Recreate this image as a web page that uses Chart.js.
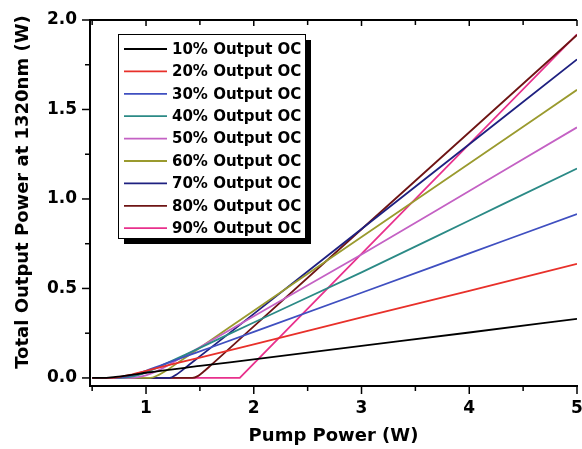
<!DOCTYPE html>
<html>
<head>
<meta charset="utf-8">
<script src="https://cdn.jsdelivr.net/npm/chart.js@4.4.0/dist/chart.umd.min.js"></script>
<style>
  body { margin: 0; background: #fff; }
  #chart { display: block; }
</style>
</head>
<body>
<canvas id="chart" width="582" height="449"></canvas>
<script>
// --- DATA ---
const seriesLabels = ['10% Output OC', '20% Output OC', '30% Output OC', '40% Output OC', '50% Output OC',
                      '60% Output OC', '70% Output OC', '80% Output OC', '90% Output OC'];
const seriesColors = ['#000000', '#e8302a', '#3f4fc0', '#2b8a86', '#c461c4',
                      '#9a9a2e', '#1e2080', '#6e1414', '#e8308c'];

const pump10 = [0.5, 0.6, 0.7, 0.8, 0.9, 1.0, 1.5, 2, 3, 4, 5];
const out10  = [0, 0, 0.005, 0.012, 0.02, 0.029, 0.067, 0.104, 0.179, 0.254, 0.33];
const pump20 = [0.5, 0.65, 0.75, 0.85, 1.0, 1.2, 1.5, 2, 3, 4, 5];
const out20  = [0, 0, 0.005, 0.017, 0.04, 0.07, 0.114, 0.188, 0.338, 0.487, 0.637];
const pump30 = [0.5, 0.7, 0.8, 0.9, 1.0, 1.1, 1.2, 1.4, 1.6, 2, 3, 4, 5];
const out30  = [0, 0, 0.006, 0.02, 0.04, 0.062, 0.084, 0.127, 0.17, 0.257, 0.476, 0.696, 0.916];
const pump40 = [0.5, 0.75, 0.85, 0.95, 1.05, 1.15, 1.3, 1.5, 2, 3, 4, 5];
const out40  = [0, 0, 0.006, 0.02, 0.043, 0.07, 0.112, 0.168, 0.31, 0.59, 0.88, 1.17];
const pump50 = [0.5, 0.85, 0.95, 1.05, 1.15, 1.25, 1.4, 1.6, 2, 3, 4, 5];
const out50  = [0, 0, 0.007, 0.025, 0.053, 0.087, 0.138, 0.206, 0.345, 0.69, 1.045, 1.40];
const pump60 = [0.5, 1.04, 1.1, 1.2, 1.3, 1.5, 2, 3, 4, 5];
const out60  = [0, 0, 0.012, 0.046, 0.087, 0.169, 0.376, 0.787, 1.198, 1.61];
const pump70 = [0.5, 1.22, 1.28, 1.4, 1.6, 2, 3, 4, 5];
const out70  = [0, 0, 0.018, 0.074, 0.168, 0.358, 0.832, 1.306, 1.78];
const pump80 = [0.5, 1.43, 1.48, 1.53, 1.6, 2, 3, 4, 5];
const out80  = [0, 0, 0.01, 0.033, 0.07, 0.288, 0.831, 1.373, 1.916];
const pump90 = [0.5, 1.87, 5];
const out90  = [0, 0, 1.92];

const xMajorTicks = [1, 2, 3, 4, 5];
const xMinorTicks = [0.5, 1.5, 2.5, 3.5, 4.5];
const yMajorTicks = [0, 0.5, 1.0, 1.5, 2.0];
const yMinorTicks = [0.25, 0.75, 1.25, 1.75];

const xTitle = 'Pump Power (W)';
const yTitle = 'Total Output Power at 1320nm (W)';

// --- BUILD DATASETS ---
const pumpSets = [pump10, pump20, pump30, pump40, pump50, pump60, pump70, pump80, pump90];
const outSets  = [out10, out20, out30, out40, out50, out60, out70, out80, out90];

const datasets = seriesLabels.map((label, i) => ({
    label: label,
    data: pumpSets[i].map((x, j) => ({ x: x, y: outSets[i][j] })),
    borderColor: seriesColors[i],
    backgroundColor: seriesColors[i],
    borderWidth: 1.8,
    pointRadius: 0,
    fill: false,
    cubicInterpolationMode: i === 8 ? 'default' : 'monotone',
    tension: 0
}));

const FONT = '"DejaVu Sans", Arial, sans-serif';

// --- FRAME, MINOR TICKS, LEGEND, TITLES ---
const framePlugin = {
    id: 'frame',
    afterDraw(chart) {
        const ctx = chart.ctx;
        const xs = chart.scales.x;
        const ys = chart.scales.y;
        const area = chart.chartArea;

        const seg = (x1, y1, x2, y2) => {
            ctx.beginPath();
            ctx.moveTo(x1, y1);
            ctx.lineTo(x2, y2);
            ctx.stroke();
        };

        ctx.save();
        ctx.strokeStyle = '#000';

        // top frame line
        ctx.lineWidth = 2;
        seg(area.left - 1, area.top, area.right, area.top);

        // tick marks
        ctx.lineWidth = 1.5;
        xMajorTicks.forEach(v => {
            const px = xs.getPixelForValue(v);
            seg(px, area.bottom, px, area.bottom + 8);
            seg(px, area.top, px, area.top + 6);
        });
        xMinorTicks.forEach(v => {
            const px = xs.getPixelForValue(v);
            seg(px, area.bottom, px, area.bottom + 5);
            seg(px, area.top, px, area.top + 5);
        });
        yMajorTicks.forEach(v => {
            const py = ys.getPixelForValue(v);
            seg(area.left - 8, py, area.left, py);
        });
        yMinorTicks.forEach(v => {
            const py = ys.getPixelForValue(v);
            seg(area.left - 5, py, area.left, py);
        });

        // legend box with drop shadow
        const bx = area.left + 28, by = area.top + 14, bw = 187, bh = 204;
        ctx.fillStyle = '#000';
        ctx.fillRect(bx + 6, by + 6, bw, bh);
        ctx.fillStyle = '#fff';
        ctx.fillRect(bx, by, bw, bh);
        ctx.lineWidth = 1;
        ctx.strokeRect(bx + 0.5, by + 0.5, bw, bh);

        ctx.font = 'bold 15px ' + FONT;
        ctx.textBaseline = 'middle';
        ctx.textAlign = 'left';
        chart.data.datasets.forEach((ds, i) => {
            const ry = by + 15 + i * 22.4;
            ctx.strokeStyle = ds.borderColor;
            ctx.lineWidth = 1.8;
            seg(bx + 6, ry, bx + 49, ry);
            ctx.fillStyle = '#000';
            ctx.fillText(ds.label, bx + 54, ry + 1);
        });

        // axis titles
        ctx.fillStyle = '#000';
        ctx.font = 'bold 18px ' + FONT;
        ctx.textAlign = 'center';
        ctx.fillText(xTitle, (area.left + area.right) / 2, 436);

        ctx.translate(23, 192);
        ctx.rotate(-Math.PI / 2);
        ctx.fillText(yTitle, 0, 0);
        ctx.restore();
    }
};

// --- CHART ---
new Chart(document.getElementById('chart'), {
    type: 'line',
    data: { datasets: datasets },
    plugins: [framePlugin],
    options: {
        responsive: false,
        animation: false,
        layout: { padding: { top: 20, right: 5, left: 0, bottom: 0 } },
        plugins: {
            legend: { display: false },
            tooltip: { enabled: false }
        },
        scales: {
            x: {
                type: 'linear',
                min: 0.48,
                max: 5,
                afterBuildTicks: scale => { scale.ticks = xMajorTicks.map(v => ({ value: v })); },
                afterFit: scale => {
                    scale.height = 63;
                    scale.paddingLeft = 0;
                    scale.paddingRight = 0;
                },
                grid: { display: true, drawOnChartArea: false, drawTicks: false },
                border: { display: true, color: '#000', width: 2 },
                ticks: {
                    color: '#000',
                    padding: 12,
                    maxRotation: 0,
                    font: { family: FONT, size: 17, weight: 'bold' },
                    callback: v => String(v)
                }
            },
            y: {
                type: 'linear',
                min: -0.045,
                max: 2.0,
                afterBuildTicks: scale => { scale.ticks = yMajorTicks.map(v => ({ value: v })); },
                afterFit: scale => {
                    scale.width = 90;
                    scale.paddingTop = 0;
                    scale.paddingBottom = 0;
                },
                grid: { display: true, drawOnChartArea: false, drawTicks: false },
                border: { display: true, color: '#000', width: 2 },
                ticks: {
                    color: '#000',
                    padding: 13,
                    font: { family: FONT, size: 17, weight: 'bold' },
                    callback: v => Number(v).toFixed(1)
                }
            }
        }
    }
});
</script>
</body>
</html>
